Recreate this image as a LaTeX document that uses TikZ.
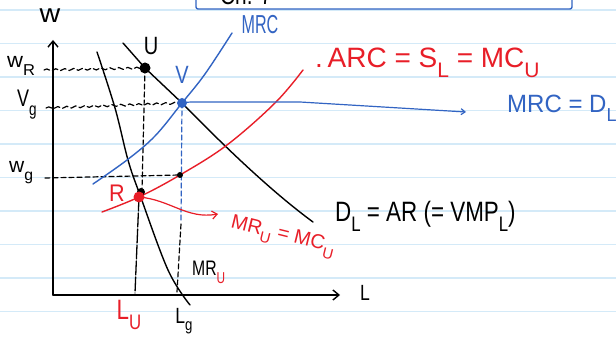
\documentclass[tikz,border=0pt]{standalone}
\usepackage{fontspec}
\usepackage{graphicx}
\setmainfont{Liberation Sans}
\usetikzlibrary{arrows.meta,decorations.pathmorphing}
\definecolor{inkblue}{RGB}{50,100,195}
\definecolor{inkred}{RGB}{232,30,40}
\definecolor{paper}{RGB}{212,234,248}
\newcommand\hw[2][0.72]{\scalebox{#1}[1]{#2}}
\newcommand\sbs[1]{\raisebox{-0.35em}{\scalebox{0.75}{#1}}}
\newcommand\fs[1]{\fontsize{#1}{#1}\selectfont}
\tikzset{
  paperline/.style={draw=paper, line width=1.2pt},
  ink/.style={line width=1.4pt, line cap=round, line join=round},
  axisline/.style={ink, -{Straight Barb[length=6pt,width=10pt]}},
  wavy/.style={ink, line width=1.2pt, dashed, dash pattern=on 6pt off 3pt, decorate, decoration={snake, amplitude=1pt, segment length=9pt}},
  dashv/.style={ink, line width=1.2pt, dash pattern=on 5pt off 3pt},
  lbl/.style={inner sep=0pt, font=\fs{24}},
  dot/.style={circle, inner sep=0pt, minimum size=#1},
}
\begin{document}
\begin{tikzpicture}[x=1pt,y=-1pt]
\useasboundingbox (0,0) rectangle (616,339);
\fill[white] (0,0) rectangle (616,339);
\foreach \yy in {10,43.5,77,110.5,144,177.5,211,244.5,278,311.5}
  \draw[paperline] (0,\yy) -- (616,\yy);
% top box
\node[lbl, anchor=base west, font=\fs{26}] (ch) at (220,5) {\hw[0.8]{Ch. 7}};
\draw[ink, draw=inkblue, rounded corners=2pt] (196,-6) -- (196,9) -- (572,9) -- (572,-6);
% key points
\coordinate (U) at (145,68);
\coordinate (V) at (182,103);
\coordinate (R) at (139,197);
\coordinate (G) at (180,175);
\coordinate (O) at (53,295);
\coordinate (Ytop) at (53,40);
\coordinate (Xend) at (340,295);
% axes
\draw[axisline] (O) -- (Ytop);
\draw[axisline] (O) -- (Xend);
\node[lbl, font=\fs{26}] (w) at (50,16) {\hw[1.1]{w}};
\node[lbl, font=\fs{22}] (Lax) at (365,293) {\hw[0.8]{L}};
% dashed guides
\draw[wavy] (44,70) -- (U);
\draw[wavy] (46,108) -- (V);
\draw[dashv] (45,178) -- (G);
\draw[dashv] (U) -- (142,190);
\draw[dashv, draw=inkblue] (V) -- (181,220);
\draw[dashv] (181,224) -- (177,292);
\draw[ink, line width=1.3pt, dash pattern=on 14pt off 2pt] (R) -- (135,293);
% MR_U curve
\draw[ink] plot[smooth, tension=0.6] coordinates {(97,52) (115,108) (128,160) (140,195) (168,270) (190,305)};
% D_L curve
\draw[ink] (123,43) -- (U) -- (V) .. controls (225,147) and (272,192) .. (313,222);
% MRC curve
\draw[ink, draw=inkblue] plot[smooth, tension=0.6] coordinates {(93,184) (127,160) (155,136) (182,103) (205,74) (232,33)};
% ARC curve
\draw[ink, draw=inkred] plot[smooth, tension=0.6] coordinates {(102,212) (139,197) (180,175) (227,145) (275,103) (303,70)};
% arrows
\draw[ink, line width=1.2pt, draw=inkblue, -{Straight Barb[length=4pt,width=6pt]}] (V) to[out=10,in=180] (205,102) -- (300,102) -- (466,112);
\draw[ink, line width=1.2pt, draw=inkred, -{Straight Barb[length=5pt,width=8pt]}] (R) to[out=-5,in=190] (218,214);
% dots
\node[dot=6pt, fill=black] (Gd) at (G) {};
\node[dot=8pt, fill=black] (Rb) at (141,192) {};
\node[dot=11pt, fill=inkred] (Rd) at (R) {};
\node[dot=11pt, fill=black] (Ud) at (U) {};
\node[dot=10pt, fill=inkblue] (Vd) at (V) {};
% labels
\node[lbl, font=\fs{25}] (Ul) at (151,46) {\hw[0.8]{U}};
\node[lbl, font=\fs{25}, text=inkblue] (Vl) at (182,75) {\hw[0.8]{V}};
\node[lbl, font=\fs{26}, text=inkblue] (MRCl) at (260,25) {\hw[0.62]{MRC}};
\node[lbl, font=\fs{24}, text=inkred] (Rl) at (117,193) {\hw[0.9]{R}};
\node[lbl, font=\fs{21}, anchor=base west] (wR) at (7,68) {\hw[1.05]{w\sbs{R}}};
\node[lbl, font=\fs{24}, anchor=base west] (Vg) at (17,107) {\hw[0.75]{V\sbs{g}}};
\node[lbl, font=\fs{21}, anchor=base west] (wg) at (9,173) {\hw[1.0]{w\sbs{g}}};
\node[lbl, font=\fs{28}, anchor=base west, text=inkred] (ARC) at (315,68) {\hw[1.0]{.\,ARC = S\sbs{L} = MC\sbs{U}}};
\node[lbl, font=\fs{25}, anchor=base west, text=inkblue] (MRCD) at (507,113) {\hw[0.96]{MRC = D\sbs{L}}};
\node[lbl, font=\fs{28}, anchor=base west] (DL) at (335,222) {\hw[0.8]{D\sbs{L} = AR (= VMP\sbs{L})}};
\node[lbl, font=\fs{20}, anchor=base west, text=inkred, rotate=-14] (MRMC) at (230,227) {\hw[1.0]{MR\sbs{U} = MC\sbs{U}}};
\node[lbl, font=\fs{21}, anchor=base west] (MRU) at (192,276) {\hw[0.75]{MR\textcolor{inkred}{\sbs{U}}}};
\node[lbl, font=\fs{28}, text=inkred] (LU) at (129,315) {\hw[0.8]{L\sbs{U}}};
\node[lbl, font=\fs{22}] (Lg) at (184,321) {\hw[0.8]{L\sbs{g}}};
\end{tikzpicture}
\end{document}
